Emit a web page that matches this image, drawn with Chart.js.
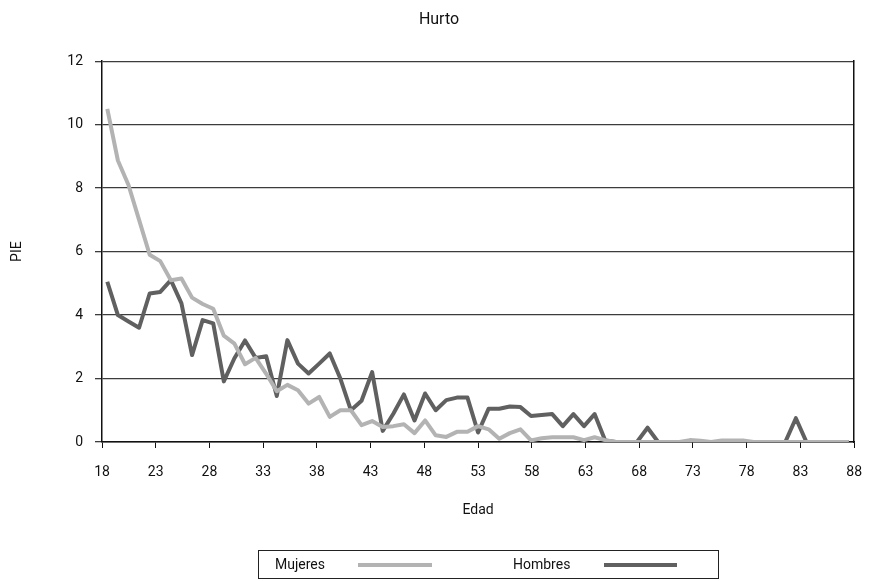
<!DOCTYPE html>
<html>
<head>
<meta charset="utf-8">
<script src="https://cdn.jsdelivr.net/npm/chart.js@4"></script>
<style>
  body { margin: 0; background: #fff; }
  #wrap { position: relative; width: 878px; height: 581px; }
  #legend {
    position: absolute; left: 258px; top: 550px; width: 459px; height: 27px;
    border: 1px solid #222; font: 14px Roboto, sans-serif; color: #111;
  }
  #legend span { position: absolute; top: 5px; line-height: 17px; }
  #legend i { position: absolute; top: 12px; height: 4px; display: block; }
</style>
</head>
<body>
<div id="wrap">
  <canvas id="myChart" width="878" height="581"></canvas>
  <div id="legend">
    <span style="left:16px">Mujeres</span>
    <i style="left:99px; width:74px; background:#b3b3b3"></i>
    <span style="left:254px">Hombres</span>
    <i style="left:345px; width:73px; background:#606060"></i>
  </div>
</div>
<script>
// edades 18..88
const edades = [];
for (let a = 18; a <= 88; a++) edades.push(a);

const xTicks = [18, 23, 28, 33, 38, 43, 48, 53, 58, 63, 68, 73, 78, 83, 88];
const yTicks = [0, 2, 4, 6, 8, 10, 12];

const mujeres = [
  10.5, 8.87, 8.1, 7.0, 5.9, 5.7, 5.1, 5.15, 4.55, 4.35,
  4.2, 3.35, 3.1, 2.45, 2.65, 2.15, 1.6, 1.8, 1.63, 1.21,
  1.42, 0.79, 1.0, 1.0, 0.53, 0.66, 0.47, 0.5, 0.56, 0.28,
  0.68, 0.21, 0.16, 0.32, 0.32, 0.5, 0.4, 0.1, 0.28, 0.4,
  0.05, 0.12, 0.15, 0.15, 0.15, 0.06, 0.15, 0.06, 0, 0,
  0, 0, 0, 0, 0, 0.06, 0.04, 0, 0.05, 0.05,
  0.05, 0, 0, 0, 0, 0, 0, 0, 0, 0, 0
];

const hombres = [
  5.05, 4.0, 3.8, 3.6, 4.68, 4.73, 5.1, 4.37, 2.74, 3.84,
  3.74, 1.91, 2.64, 3.2, 2.65, 2.7, 1.45, 3.21, 2.47, 2.16,
  2.47, 2.79, 2.0, 1.0, 1.3, 2.2, 0.35, 0.89, 1.5, 0.68,
  1.53, 1.0, 1.32, 1.4, 1.4, 0.3, 1.05, 1.05, 1.12, 1.1,
  0.82, 0.85, 0.88, 0.5, 0.88, 0.5, 0.88, 0.05, 0, 0,
  0, 0.45, 0, 0, 0, 0, 0, 0, 0, 0,
  0, 0, 0, 0, 0, 0.75, 0, 0, 0, 0, 0
];

const font = { family: "Roboto", size: 14 };

const ctx = document.getElementById("myChart").getContext("2d");
new Chart(ctx, {
  type: "line",
  data: {
    labels: edades,
    datasets: [
      {
        label: "Mujeres",
        data: mujeres,
        borderColor: "#b3b3b3",
        borderWidth: 4,
        pointRadius: 0,
        borderJoinStyle: "round",
        xAxisID: "x",
        yAxisID: "y",
      },
      {
        label: "Hombres",
        data: hombres,
        borderColor: "#606060",
        borderWidth: 4,
        pointRadius: 0,
        borderJoinStyle: "round",
        xAxisID: "x",
        yAxisID: "y",
      },
    ],
  },
  options: {
    responsive: false,
    animation: false,
    layout: { padding: { left: 0, right: 0, top: 0, bottom: 59 } },
    plugins: {
      legend: { display: false },
      tooltip: { enabled: false },
      title: {
        display: true,
        text: "Hurto",
        color: "#111",
        font: { family: "Roboto", size: 16, weight: "normal" },
        padding: { top: 10, bottom: 32 },
      },
    },
    scales: {
      x: {
        type: "category",
        display: false,
        offset: true,
      },
      x2: {
        type: "linear",
        position: "bottom",
        min: xTicks[0],
        max: xTicks[xTicks.length - 1],
        afterBuildTicks: (s) => { s.ticks = xTicks.map((v) => ({ value: v })); },
        ticks: { color: "#111", font: font, padding: 16, maxRotation: 0 },
        grid: { drawOnChartArea: false, tickLength: 6, color: "#111", lineWidth: 1 },
        border: { color: "#111", width: 1.5 },
        title: { display: true, text: "Edad", color: "#111", font: font, padding: { top: 0, bottom: 3 } },
        afterFit: (s) => { s.height = 80; },
      },
      y: {
        min: yTicks[0],
        max: yTicks[yTicks.length - 1],
        afterBuildTicks: (s) => { s.ticks = yTicks.map((v) => ({ value: v })); },
        ticks: { color: "#111", font: font, padding: 12 },
        grid: { color: "#3c3c3c", lineWidth: 1.3, tickLength: 7 },
        border: { color: "#111", width: 1.5 },
        title: { display: true, text: "PIE", color: "#111", font: font, padding: { top: 9, bottom: 0 } },
        afterFit: (s) => { s.width = 102; },
      },
      yr: {
        position: "right",
        min: 0,
        max: 12,
        ticks: { display: false },
        grid: { drawOnChartArea: false, drawTicks: false },
        border: { color: "#111", width: 1.5 },
        afterFit: (s) => { s.width = 19; },
      },
    },
  },
});
</script>
</body>
</html>
